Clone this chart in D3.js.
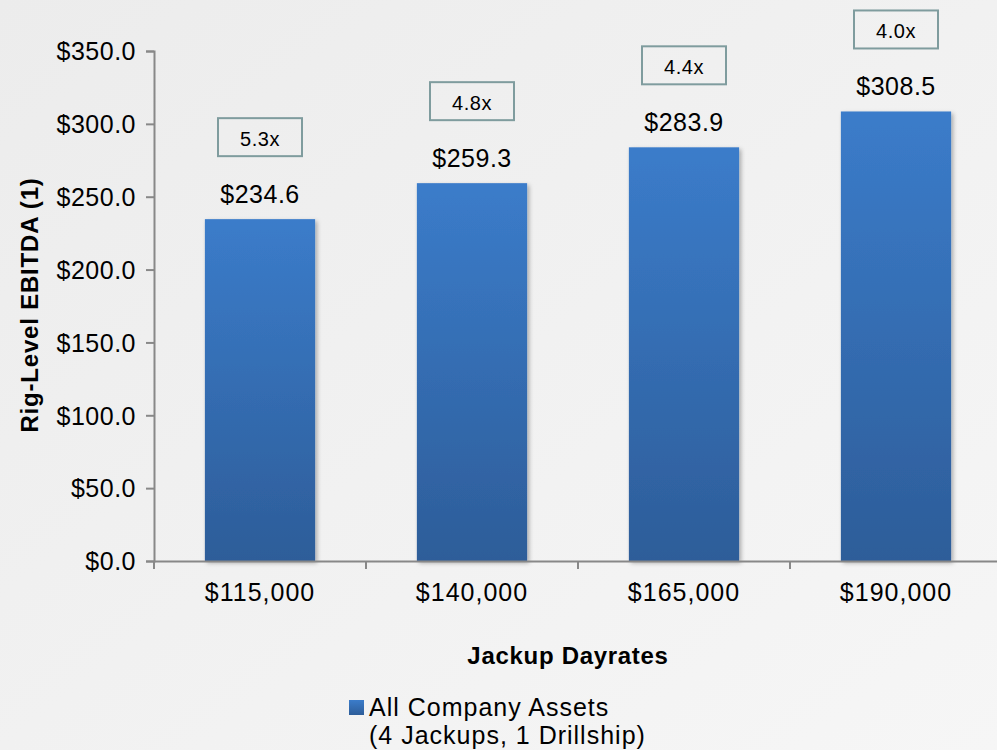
<!DOCTYPE html>
<html><head><meta charset="utf-8">
<script src="https://cdn.jsdelivr.net/npm/d3@7"></script>
<style>
html,body{margin:0;padding:0;}
body{width:997px;height:750px;overflow:hidden;}
svg text{font-family:"Liberation Sans",Arial,sans-serif;}
</style></head>
<body>
<svg id="chart" width="997" height="750"></svg>
<script>
const categories = ["$115,000", "$140,000", "$165,000", "$190,000"];
const values = [234.6, 259.3, 283.9, 308.5];
const multiples = ["5.3x", "4.8x", "4.4x", "4.0x"];
const yTicks = [0, 50, 100, 150, 200, 250, 300, 350];
const seriesName = ["All Company Assets", "(4 Jackups, 1 Drillship)"];

const svg = d3.select("#chart");
const defs = svg.append("defs");
const bg = defs.append("linearGradient").attr("id","bg").attr("x1","0").attr("y1","0").attr("x2","1").attr("y2","1");
bg.append("stop").attr("offset","0").attr("stop-color","#ececec");
bg.append("stop").attr("offset","1").attr("stop-color","#f6f6f6");
const bar = defs.append("linearGradient").attr("id","bar").attr("x1","0").attr("y1","0").attr("x2","0").attr("y2","1");
bar.append("stop").attr("offset","0").attr("stop-color","#3b7cca");
bar.append("stop").attr("offset","1").attr("stop-color","#2d5d99");
const f = defs.append("filter").attr("id","sh").attr("x","-10%").attr("y","-10%").attr("width","130%").attr("height","130%");
f.append("feDropShadow").attr("dx",2).attr("dy",2).attr("stdDeviation",2).attr("flood-color","#000").attr("flood-opacity",0.3);

svg.append("rect").attr("width",997).attr("height",750).attr("fill","url(#bg)");

const x0 = 154, y0 = 561, yTop = 51;
const x = d3.scaleBand().domain(categories).range([x0, x0 + 848]).paddingInner(0.48).paddingOuter(0.24);
const y = d3.scaleLinear().domain([0, 350]).range([y0, yTop]);

// bars
svg.append("g").selectAll("rect").data(values).join("rect")
  .attr("x",(d,i)=>x(categories[i]))
  .attr("y",d=>y(d))
  .attr("width",x.bandwidth())
  .attr("height",d=>y(0)-y(d))
  .attr("fill","url(#bar)")
  .attr("filter","url(#sh)");

// y axis
const yAxis = d3.axisLeft(y).tickValues(yTicks).tickFormat(d=>"$"+d3.format(".1f")(d)).tickSize(8).tickPadding(10);
const gy = svg.append("g").attr("transform",`translate(${x0},0)`).call(yAxis);
gy.select(".domain").attr("stroke","#888").attr("stroke-width",2);
gy.selectAll(".tick line").attr("stroke","#888").attr("stroke-width",2);
gy.selectAll(".tick text").attr("font-size",25).attr("letter-spacing","0.5px").attr("fill","#000").attr("dy","0.35em");

// x axis
const xAxis = d3.axisBottom(x).tickSize(0).tickPadding(22);
const gx = svg.append("g").attr("transform",`translate(0,${y0})`).call(xAxis);
gx.select(".domain").attr("stroke","#888").attr("stroke-width",2);
gx.selectAll(".tick text").attr("font-size",25).attr("letter-spacing","1px").attr("fill","#000");
// separator ticks between categories
const step = x.step();
svg.append("g").selectAll("line").data(d3.range(categories.length)).join("line")
  .attr("x1",i=>x0 + i*step).attr("x2",i=>x0 + i*step)
  .attr("y1",y0).attr("y2",y0+8)
  .attr("stroke","#888").attr("stroke-width",2);

// value labels
svg.append("g").selectAll("text").data(values).join("text")
  .attr("x",(d,i)=>x(categories[i])+x.bandwidth()/2)
  .attr("y",d=>y(d)-16)
  .attr("text-anchor","middle").attr("font-size",25).attr("letter-spacing","0.5px").attr("fill","#000")
  .text(d=>"$"+d3.format(".1f")(d));

// multiple boxes
const bw = 84, bh = 38;
const gb = svg.append("g").selectAll("g").data(values).join("g")
  .attr("transform",(d,i)=>`translate(${x(categories[i])+x.bandwidth()/2},${y(d)-82})`);
gb.append("rect").attr("x",-bw/2).attr("y",-bh/2).attr("width",bw).attr("height",bh)
  .attr("fill","none").attr("stroke","#7f9c9e").attr("stroke-width",2);
gb.append("text").attr("y",9).attr("text-anchor","middle").attr("font-size",20).attr("letter-spacing","0.5px").attr("fill","#000")
  .text((d,i)=>multiples[i]);

// axis titles
svg.append("text").attr("transform","translate(38,305) rotate(-90)")
  .attr("text-anchor","middle").attr("font-size",24).attr("letter-spacing","0.8px").attr("font-weight","bold").attr("fill","#000")
  .text("Rig-Level EBITDA (1)");
svg.append("text").attr("x",568).attr("y",664)
  .attr("text-anchor","middle").attr("font-size",24).attr("letter-spacing","0.7px").attr("font-weight","bold").attr("fill","#000")
  .text("Jackup Dayrates");

// legend
svg.append("rect").attr("x",349).attr("y",700).attr("width",15).attr("height",15).attr("fill","url(#bar)");
svg.append("text").attr("x",369).attr("y",716).attr("font-size",25).attr("letter-spacing","1px").attr("fill","#000")
  .selectAll("tspan").data(seriesName).join("tspan")
  .attr("x",369).attr("dy",(d,i)=>i===0?0:28).text(d=>d);
</script>
</body></html>
